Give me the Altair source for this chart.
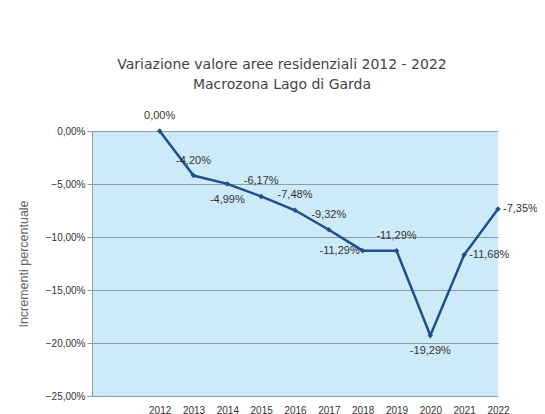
import altair as alt
import pandas as pd

years = [2012, 2013, 2014, 2015, 2016, 2017, 2018, 2019, 2020, 2021, 2022]
values = [0.00, -4.20, -4.99, -6.17, -7.48, -9.32, -11.29, -11.29, -19.29, -11.68, -7.35]
label_side = ["above", "above", "below", "above", "above", "above", "left", "above", "below", "right", "right"]
y_ticks = [0, -5, -10, -15, -20, -25]

df = pd.DataFrame({
    "year": years,
    "value": values,
    "label": [f"{v:.2f}".replace(".", ",") + "%" for v in values],
    "side": label_side,
})

x_enc = alt.X("year:Q",
              scale=alt.Scale(domain=[2010, 2022], nice=False, zero=False),
              axis=alt.Axis(values=years, format="d", title=None, ticks=False, domain=False,
                            grid=False, labelFont="Liberation Sans", labelFontSize=10,
                            labelColor="#333", labelPadding=9, labelFlush=False,
                            labelOverlap=False, labelBound=False))
y_enc = alt.Y("value:Q",
              scale=alt.Scale(domain=[-25, 0], nice=False),
              axis=alt.Axis(values=y_ticks, title="Incrementi percentuale",
                            labelExpr="replace(format(datum.value, '.2f'), '.', ',') + '%'",
                            labelFont="Liberation Sans", labelFontSize=10, labelColor="#333",
                            titleFont="Liberation Sans", titleFontSize=12.5, titleFontWeight="normal",
                            titleColor="#666", titlePadding=15,
                            grid=True, gridColor="#8d9ba5", gridWidth=1,
                            domainColor="#8d9ba5", tickColor="#8d9ba5", tickSize=5))

base = alt.Chart(df)

line = base.mark_line(color="#1f4e8f", strokeWidth=2.5,
                      point=alt.OverlayMarkDef(shape="diamond", size=30, filled=True, color="#1f4e8f")
                      ).encode(x=x_enc, y=y_enc)

text_style = dict(font="Liberation Sans", fontSize=11, color="#333")
above = base.transform_filter("datum.side == 'above'").mark_text(dy=-15, **text_style).encode(
    x="year:Q", y="value:Q", text="label:N")
below = base.transform_filter("datum.side == 'below'").mark_text(dy=16, **text_style).encode(
    x="year:Q", y="value:Q", text="label:N")
left = base.transform_filter("datum.side == 'left'").mark_text(align="right", dx=-3, **text_style).encode(
    x="year:Q", y="value:Q", text="label:N")
right = base.transform_filter("datum.side == 'right'").mark_text(align="left", dx=5, **text_style).encode(
    x="year:Q", y="value:Q", text="label:N")

chart = alt.layer(line, above, below, left, right).properties(
    width=406, height=265,
    title=alt.TitleParams(text=["Variazione valore aree residenziali 2012 - 2022",
                                "Macrozona Lago di Garda"],
                          font="DejaVu Sans", fontSize=14, fontWeight="normal", color="#444",
                          lineHeight=20, offset=18, dx=-13),
    autosize=alt.AutoSizeParams(type="none"),
    padding={"left": 84, "top": 123, "right": 39, "bottom": 30},
    background="white",
).configure_view(fill="#cdeaf9", stroke=None)

chart.save("out.html", embed_options={"renderer": "svg", "actions": False})
